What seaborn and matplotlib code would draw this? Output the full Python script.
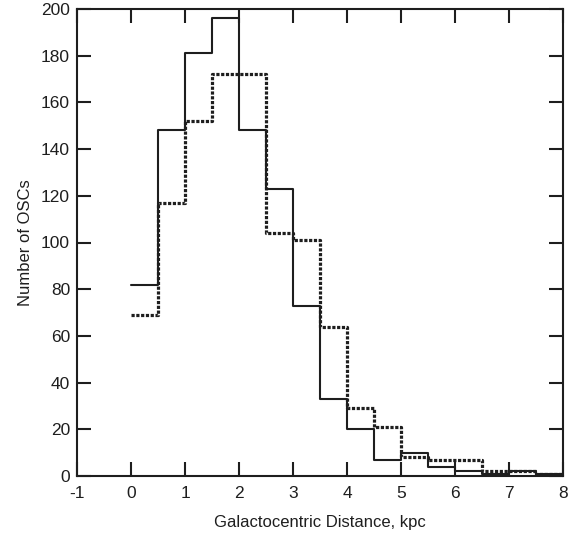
import numpy as np
import pandas as pd
import matplotlib
matplotlib.use("Agg")
import matplotlib.pyplot as plt
import seaborn as sns

# Bin edges in kpc (0.5 kpc bins from 0 to 8)
bin_edges = [0.0, 0.5, 1.0, 1.5, 2.0, 2.5, 3.0, 3.5, 4.0, 4.5, 5.0, 5.5, 6.0, 6.5, 7.0, 7.5, 8.0]
# Number of open star clusters per bin, two samples
counts_solid = [82, 148, 181, 196, 148, 123, 73, 33, 20, 7, 10, 4, 2, 1, 2, 1]
counts_dotted = [69, 117, 152, 172, 172, 104, 101, 64, 29, 21, 8, 7, 7, 2, 2, 1]

x_ticks = [-1, 0, 1, 2, 3, 4, 5, 6, 7, 8]
y_ticks = [0, 20, 40, 60, 80, 100, 120, 140, 160, 180, 200]

centers = [(a + b) / 2 for a, b in zip(bin_edges[:-1], bin_edges[1:])]
df = pd.DataFrame({
    "distance": centers + centers,
    "count": counts_solid + counts_dotted,
    "sample": ["solid"] * len(centers) + ["dotted"] * len(centers),
})

sns.set_style("ticks")
ink = "#1e1e1e"
plt.rcParams["font.family"] = ["Liberation Sans", "DejaVu Sans"]
plt.rcParams["text.color"] = ink
plt.rcParams["axes.labelcolor"] = ink
plt.rcParams["xtick.color"] = ink
plt.rcParams["ytick.color"] = ink

fig = plt.figure(figsize=(5.70, 5.37), dpi=100)
ax = fig.add_axes([77 / 570, 1 - 476 / 537, (563 - 77) / 570, (476 - 9) / 537])

sns.histplot(data=df[df["sample"] == "solid"], x="distance", weights="count",
             bins=bin_edges, element="step", fill=False, color=ink,
             linewidth=1.5, ax=ax)
sns.histplot(data=df[df["sample"] == "dotted"], x="distance", weights="count",
             bins=bin_edges, element="step", fill=False, color=ink,
             linewidth=2.3, linestyle=(0, (1.0, 0.5)), ax=ax)

ax.set_xlim(-1, 8)
ax.set_ylim(0, 200)
ax.set_xticks(x_ticks)
ax.set_yticks(y_ticks)
ax.set_xticklabels([str(v) for v in x_ticks])
ax.set_yticklabels([str(v) for v in y_ticks])

ax.tick_params(direction="in", length=10, width=1.5, labelsize=12.5,
               top=True, right=True)
ax.tick_params(axis="x", pad=7.5)
ax.tick_params(axis="y", pad=5)
for side in ax.spines.values():
    side.set_visible(True)
    side.set_linewidth(1.5)
    side.set_color(ink)

ax.set_xlabel("Galactocentric Distance, kpc", fontsize=12, labelpad=10)
ax.set_ylabel("Number of OSCs", fontsize=12, labelpad=6)

fig.savefig("out.png", dpi=100)
